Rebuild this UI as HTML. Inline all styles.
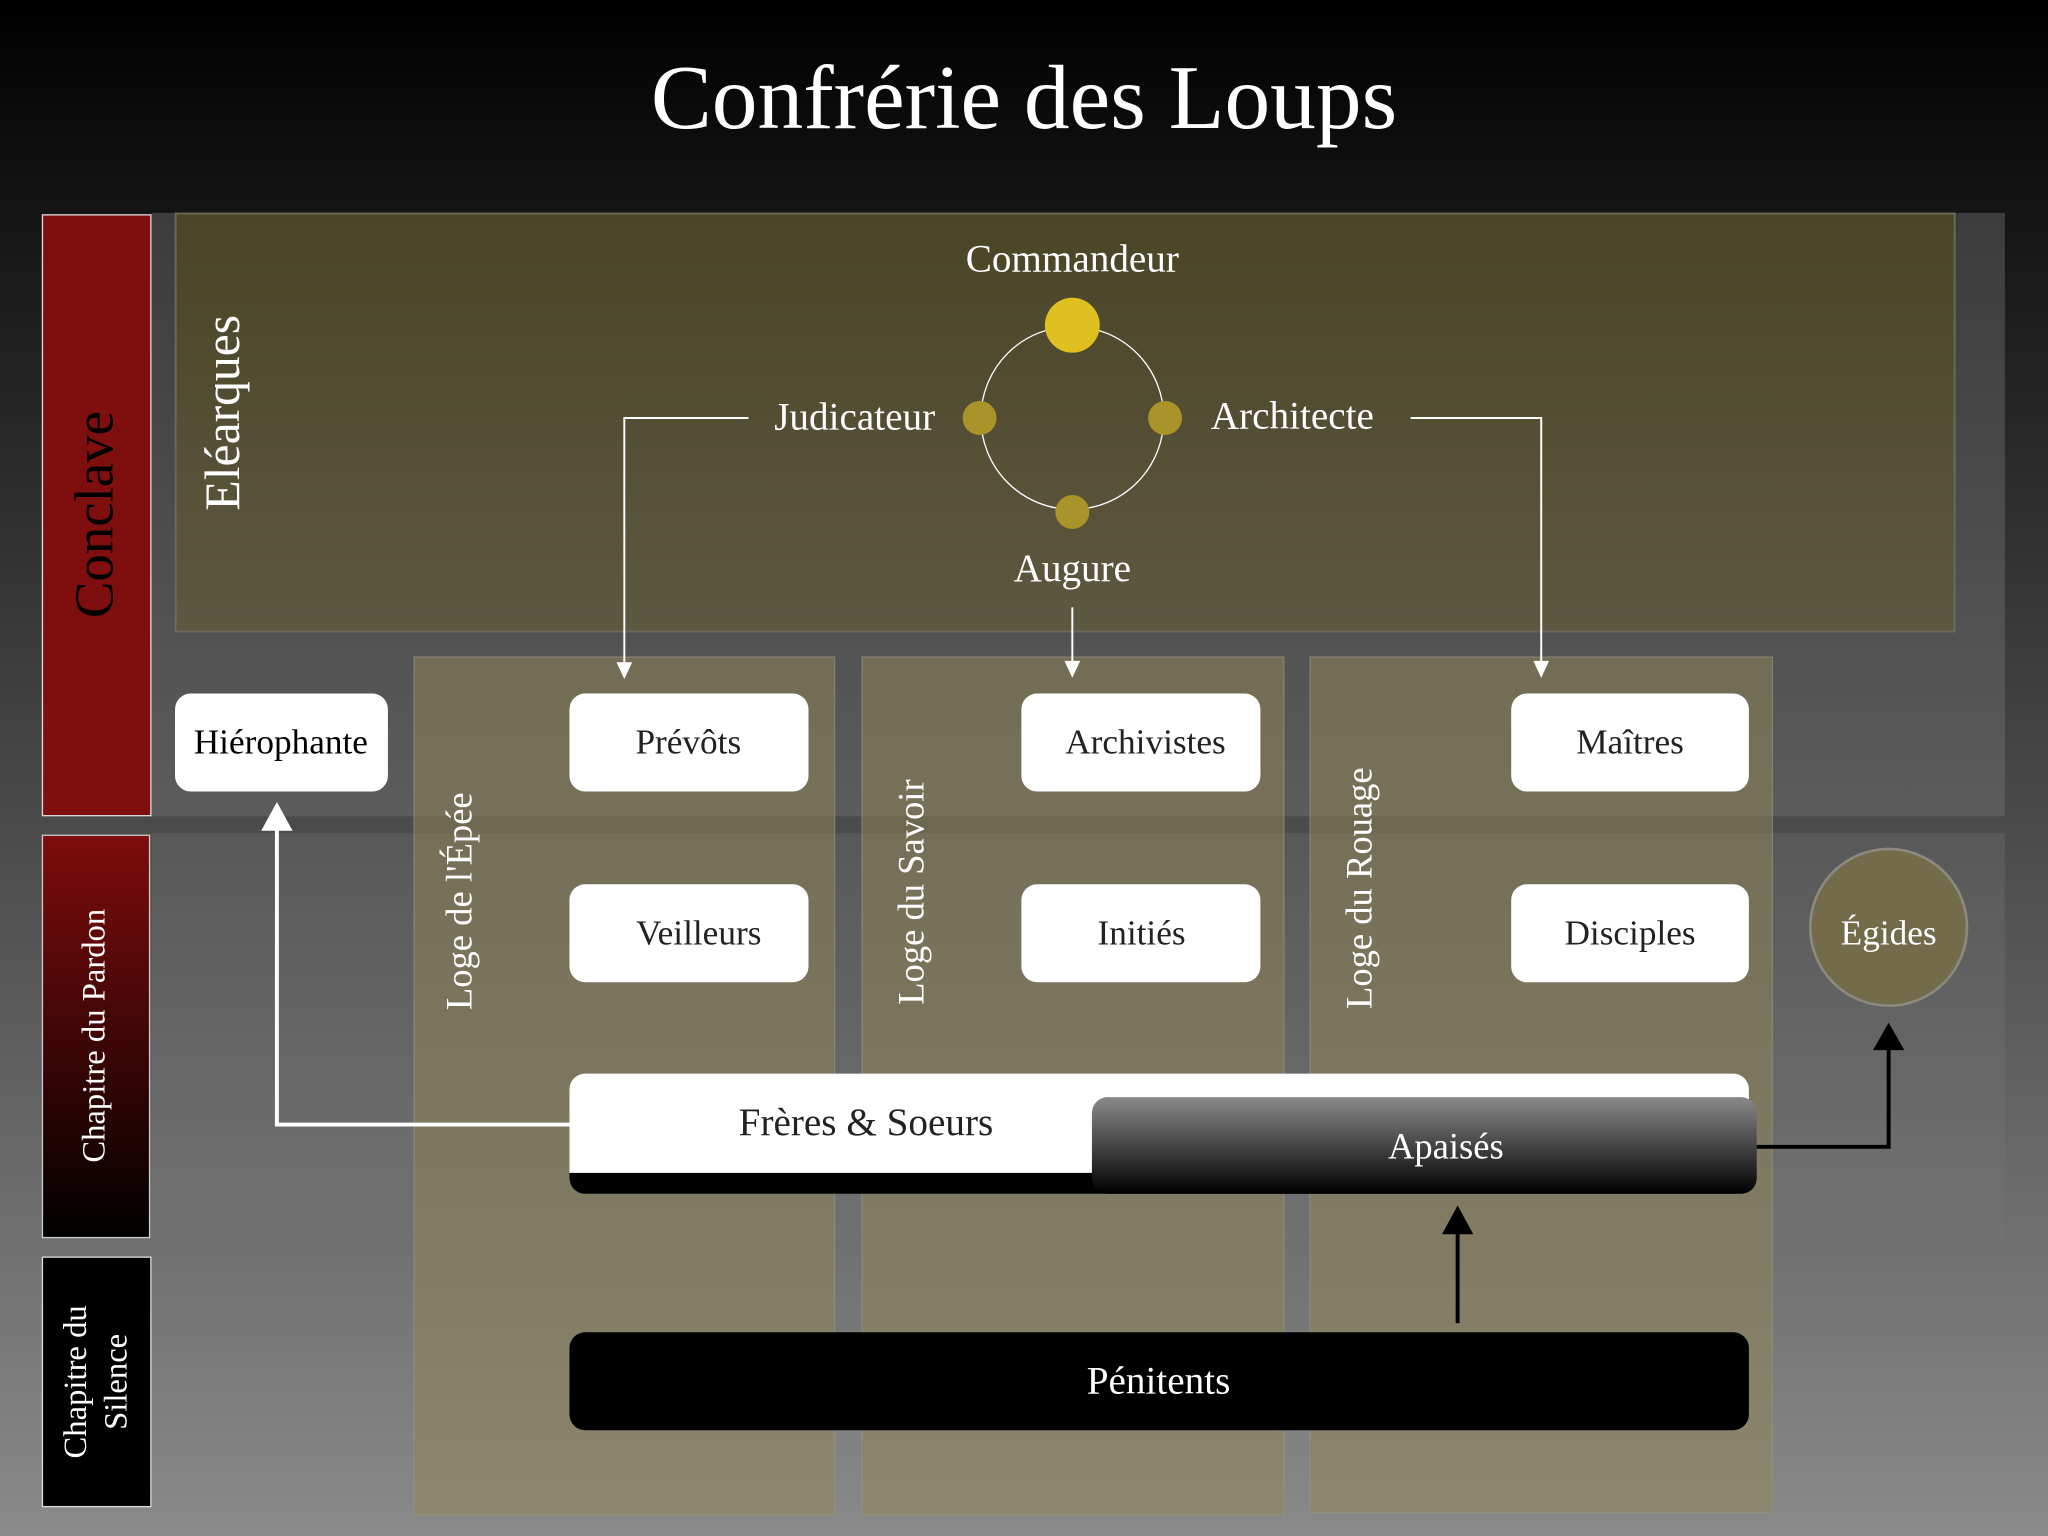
<!DOCTYPE html>
<html><head><meta charset="utf-8"><style>
html,body{margin:0;padding:0;background:#000;}
svg{display:block;}
text{font-family:"Liberation Serif","DejaVu Serif",serif;}
</style></head><body>
<svg width="2048" height="1536" viewBox="0 0 1568 1176" xmlns="http://www.w3.org/2000/svg">
<defs>
<linearGradient id="bg" x1="0" y1="0" x2="0" y2="1">
<stop offset="0" stop-color="#000"/><stop offset="0.15" stop-color="#161616"/><stop offset="1" stop-color="#8a8a8a"/></linearGradient>
<linearGradient id="ol" x1="0" y1="0" x2="0" y2="1">
<stop offset="0" stop-color="#4a4526"/><stop offset="1" stop-color="#5d5841"/></linearGradient>
<linearGradient id="pardon" x1="0" y1="0" x2="0" y2="1">
<stop offset="0" stop-color="#7e0c0c"/><stop offset="1" stop-color="#000"/></linearGradient>
<linearGradient id="apa" x1="0" y1="0" x2="0" y2="1">
<stop offset="0" stop-color="#8a8a8a"/><stop offset="1" stop-color="#000"/></linearGradient>
</defs>
<rect width="1568" height="1176" fill="url(#bg)"/>
<text x="784" y="98" font-size="70" fill="#fff" text-anchor="middle">Confrérie des Loups</text>
<rect x="116" y="163" width="1419" height="462" fill="#777" fill-opacity="0.4"/>
<rect x="116" y="638" width="1419" height="310" fill="#777" fill-opacity="0.3"/>
<rect x="32.5" y="164.5" width="83" height="460" fill="#7f0f0f" stroke="#ddd" stroke-width="1"/>
<text transform="translate(86,394) rotate(-90)" font-size="42" fill="#000" text-anchor="middle">Conclave</text>
<rect x="32.5" y="639.5" width="82" height="308" fill="url(#pardon)" stroke="#ccc" stroke-width="1"/>
<text transform="translate(80,793) rotate(-90)" font-size="25" fill="#fff" text-anchor="middle">Chapitre du Pardon</text>
<rect x="32.5" y="962.5" width="83" height="191" fill="#000" stroke="#ddd" stroke-width="1"/>
<text transform="translate(66,1058) rotate(-90)" font-size="25" fill="#fff" text-anchor="middle">Chapitre du</text>
<text transform="translate(97,1058) rotate(-90)" font-size="25" fill="#fff" text-anchor="middle">Silence</text>
<rect x="134.5" y="163.5" width="1362" height="320" fill="url(#ol)" stroke="#6a6a5a" stroke-width="1.5"/>
<text transform="translate(183,316) rotate(-90)" font-size="38" fill="#fff" text-anchor="middle">Eléarques</text>
<rect x="317" y="503" width="322" height="657" fill="#928557" fill-opacity="0.5" stroke="#9a9580" stroke-opacity="0.6"/>
<rect x="660" y="503" width="323" height="657" fill="#928557" fill-opacity="0.5" stroke="#9a9580" stroke-opacity="0.6"/>
<rect x="1003" y="503" width="354" height="655" fill="#928557" fill-opacity="0.5" stroke="#9a9580" stroke-opacity="0.6"/>
<text transform="translate(361,690) rotate(-90)" font-size="28" fill="#fff" text-anchor="middle">Loge de l'Épée</text>
<text transform="translate(707,683) rotate(-90)" font-size="28" fill="#fff" text-anchor="middle">Loge du Savoir</text>
<text transform="translate(1050,680) rotate(-90)" font-size="28" fill="#fff" text-anchor="middle">Loge du Rouage</text>
<circle cx="821" cy="320" r="70" fill="none" stroke="#fff" stroke-width="1"/>
<circle cx="821" cy="249" r="21" fill="#e0c020"/>
<circle cx="750" cy="320" r="13" fill="#a89428"/>
<circle cx="892" cy="320" r="13" fill="#a89428"/>
<circle cx="821" cy="392" r="13" fill="#a89428"/>
<text x="821" y="208" font-size="30" fill="#fff" text-anchor="middle">Commandeur</text>
<text x="716" y="329" font-size="30" fill="#fff" text-anchor="end">Judicateur</text>
<text x="927" y="328" font-size="30" fill="#fff">Architecte</text>
<text x="821" y="445" font-size="30" fill="#fff" text-anchor="middle">Augure</text>
<g stroke="#fff" stroke-width="1.5" fill="none">
<polyline points="573,320 478,320 478,510"/>
<polyline points="1080,320 1180,320 1180,508"/>
<line x1="821" y1="465" x2="821" y2="508"/>
</g>
<g fill="#fff">
<polygon points="472,507 484,507 478,520"/>
<polygon points="1174,506 1186,506 1180,519"/>
<polygon points="815,506 827,506 821,519"/>
</g>
<g fill="#fff">
<rect x="134" y="531" width="163" height="75" rx="12"/>
<rect x="436" y="531" width="183" height="75" rx="12"/>
<rect x="782" y="531" width="183" height="75" rx="12"/>
<rect x="1157" y="531" width="182" height="75" rx="12"/>
<rect x="436" y="677" width="183" height="75" rx="12"/>
<rect x="782" y="677" width="183" height="75" rx="12"/>
<rect x="1157" y="677" width="182" height="75" rx="12"/>
</g>
<g font-size="27" text-anchor="middle" fill="#222">
<text x="215" y="577" fill="#000">Hiérophante</text>
<text x="527" y="577">Prévôts</text>
<text x="877" y="577">Archivistes</text>
<text x="1248" y="577">Maîtres</text>
<text x="535" y="723">Veilleurs</text>
<text x="874" y="723">Initiés</text>
<text x="1248" y="723">Disciples</text>
</g>
<circle cx="1446" cy="710" r="60" fill="#736b4a" stroke="#8a8a80" stroke-width="2"/>
<text x="1446" y="723" font-size="27" fill="#fff" text-anchor="middle">Égides</text>
<rect x="436" y="840" width="903" height="74" rx="12" fill="#000"/>
<path d="M448,822 H1327 A12,12 0 0 1 1339,834 V898 H436 V834 A12,12 0 0 1 448,822 Z" fill="#fff"/>
<rect x="836" y="840" width="509" height="74" rx="12" fill="url(#apa)"/>
<text x="663" y="869" font-size="30" fill="#222" text-anchor="middle">Frères &amp; Soeurs</text>
<text x="1107" y="887" font-size="28" fill="#fff" text-anchor="middle">Apaisés</text>
<polyline points="436,861 212,861 212,630" fill="none" stroke="#fff" stroke-width="3"/>
<polygon points="200,636 224,636 212,614" fill="#fff"/>
<polyline points="1345,878 1446,878 1446,800" fill="none" stroke="#000" stroke-width="3"/>
<polygon points="1434,804 1458,804 1446,783" fill="#000"/>
<line x1="1116" y1="1013" x2="1116" y2="938" stroke="#000" stroke-width="3"/>
<polygon points="1104,945 1128,945 1116,923" fill="#000"/>
<rect x="436" y="1020" width="903" height="75" rx="12" fill="#000"/>
<text x="887" y="1067" font-size="30" fill="#fff" text-anchor="middle">Pénitents</text>
</svg>
</body></html>
